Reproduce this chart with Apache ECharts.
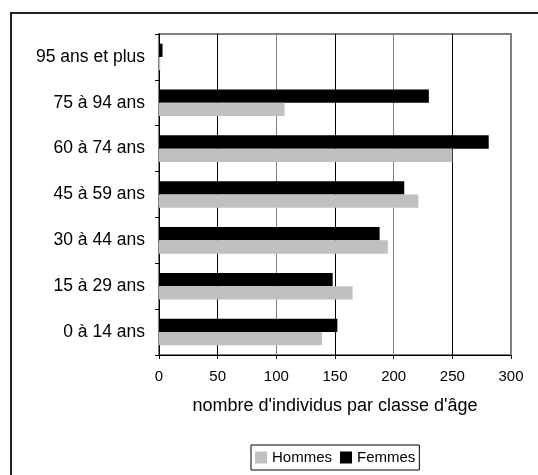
<!DOCTYPE html>
<html>
<head>
<meta charset="utf-8">
<script src="https://cdn.jsdelivr.net/npm/echarts@6/dist/echarts.min.js"></script>
<style>
  html, body { margin: 0; padding: 0; background: #fff; }
  #chart { width: 538px; height: 475px; }
</style>
</head>
<body>
<div id="chart"></div>
<script>
// Age groups, bottom to top
const categories = ['0 à 14 ans', '15 à 29 ans', '30 à 44 ans', '45 à 59 ans', '60 à 74 ans', '75 à 94 ans', '95 ans et plus'];
const hommes = [139, 165, 195, 221, 250, 107, 1];
const femmes = [152, 148, 188, 209, 281, 230, 3];
const xTicks = [0, 50, 100, 150, 200, 250, 300];

const FONT = '"Liberation Sans", Arial, sans-serif';

const chart = echarts.init(document.getElementById('chart'), null, { renderer: 'canvas' });

chart.setOption({
  backgroundColor: '#fff',
  animation: false,
  textStyle: { fontFamily: FONT, color: '#000' },
  graphic: [{
    type: 'rect',
    shape: { x: 11, y: 13, width: 700, height: 700 },
    style: { fill: 'none', stroke: '#222', lineWidth: 2 },
    silent: true,
    z: -1
  }],
  grid: {
    left: 159, right: 27, top: 34, bottom: 120,
    show: true,
    borderColor: '#808080',
    borderWidth: 2,
    backgroundColor: 'transparent'
  },
  legend: {
    data: ['Hommes', 'Femmes'],
    left: 251, top: 445,
    orient: 'horizontal',
    itemWidth: 12, itemHeight: 12, itemGap: 8,
    padding: [5, 4, 5, 4],
    borderColor: '#000', borderWidth: 1,
    textStyle: { fontFamily: FONT, fontSize: 15, color: '#000' },
    icon: 'rect'
  },
  xAxis: {
    type: 'value',
    min: xTicks[0], max: xTicks[xTicks.length - 1], interval: 50,
    name: "nombre d'individus par classe d'âge",
    nameLocation: 'middle',
    nameGap: 42,
    nameTextStyle: { fontFamily: FONT, fontSize: 18, color: '#000' },
    axisLine: { show: true, onZero: false, lineStyle: { color: '#000', width: 1 } },
    axisTick: { show: true, length: 4, lineStyle: { color: '#000' } },
    axisLabel: { fontFamily: FONT, fontSize: 15, color: '#000', margin: 14 },
    splitLine: { show: true, lineStyle: { color: ['#000', '#000', '#808080', '#000', '#808080', '#000', '#808080'], width: 1 } }
  },
  yAxis: {
    type: 'category',
    data: categories,
    axisLine: { show: true, lineStyle: { color: '#000', width: 1 } },
    axisTick: { show: true, length: 4, lineStyle: { color: '#000' } },
    axisLabel: { fontFamily: FONT, fontSize: 17.5, color: '#000', margin: 14 },
    splitLine: { show: false }
  },
  // Femmes listed first so its bar sits above Hommes within each age group
  series: [
    {
      name: 'Femmes', type: 'bar', data: femmes,
      itemStyle: { color: '#000' },
      barGap: '0%', barCategoryGap: '42%'
    },
    {
      name: 'Hommes', type: 'bar', data: hommes,
      itemStyle: { color: '#C0C0C0' },
      barGap: '0%', barCategoryGap: '42%'
    }
  ]
});
</script>
</body>
</html>
